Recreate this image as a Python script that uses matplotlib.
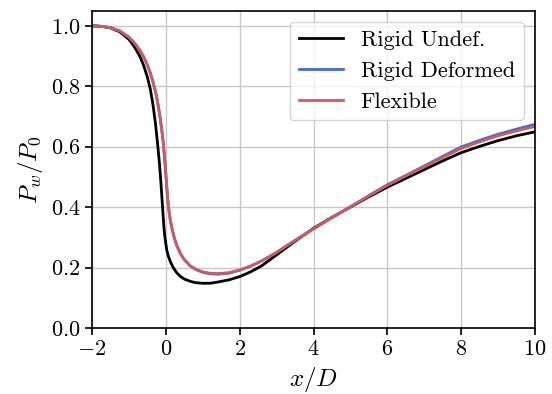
import numpy as np
import matplotlib
matplotlib.use("Agg")
import matplotlib.pyplot as plt

plt.rcParams['font.family'] = 'serif'
plt.rcParams['font.serif'] = ['cmr10']
plt.rcParams['mathtext.fontset'] = 'cm'
plt.rcParams['axes.formatter.use_mathtext'] = True

# wall pressure along x/D
x_rigid = [-2.0, -1.75, -1.5, -1.25, -1.0, -0.85, -0.7, -0.6, -0.5, -0.42, -0.35, -0.28,
           -0.22, -0.17, -0.13, -0.10, -0.07, -0.05, -0.03, 0.0, 0.03, 0.07, 0.12, 0.2,
           0.3, 0.4, 0.5, 0.65, 0.8, 1.0, 1.2, 1.4, 1.7, 2.0, 2.3, 2.6, 3.0, 3.5, 4.0,
           4.5, 5.0, 5.5, 6.0, 6.5, 7.0, 7.5, 8.0, 8.5, 9.0, 9.5, 10.0]
p_rigid = [1.0, 0.998, 0.993, 0.980, 0.955, 0.930, 0.898, 0.868, 0.830, 0.790, 0.740, 0.675,
           0.605, 0.540, 0.475, 0.420, 0.365, 0.330, 0.305, 0.278, 0.255, 0.237, 0.220, 0.200,
           0.182, 0.170, 0.162, 0.155, 0.150, 0.148, 0.148, 0.152, 0.159, 0.170, 0.186, 0.206,
           0.242, 0.287, 0.330, 0.366, 0.400, 0.434, 0.466, 0.495, 0.524, 0.553, 0.580, 0.601,
           0.620, 0.636, 0.649]

x_flex = [-2.0, -1.75, -1.5, -1.25, -1.0, -0.85, -0.7, -0.6, -0.5, -0.42, -0.35, -0.28,
          -0.22, -0.16, -0.11, -0.07, -0.04, -0.01, 0.02, 0.05, 0.08, 0.12, 0.17, 0.23,
          0.3, 0.4, 0.5, 0.65, 0.8, 1.0, 1.2, 1.4, 1.7, 2.0, 2.3, 2.6, 3.0, 3.5, 4.0,
          4.5, 5.0, 5.5, 6.0, 6.5, 7.0, 7.5, 8.0, 8.5, 9.0, 9.5, 10.0]
p_deformed = [1.0, 0.998, 0.994, 0.983, 0.962, 0.943, 0.918, 0.897, 0.870, 0.843, 0.815, 0.782,
              0.745, 0.700, 0.655, 0.612, 0.570, 0.525, 0.475, 0.428, 0.392, 0.357, 0.327, 0.298,
              0.272, 0.245, 0.226, 0.206, 0.194, 0.184, 0.179, 0.178, 0.181, 0.191, 0.205, 0.222,
              0.250, 0.290, 0.328, 0.365, 0.401, 0.438, 0.474, 0.505, 0.536, 0.568, 0.599, 0.621,
              0.641, 0.658, 0.674]
p_flex = [1.0, 0.998, 0.994, 0.983, 0.962, 0.943, 0.918, 0.897, 0.870, 0.843, 0.815, 0.782,
          0.745, 0.700, 0.655, 0.612, 0.570, 0.525, 0.475, 0.428, 0.392, 0.357, 0.327, 0.298,
          0.272, 0.245, 0.226, 0.207, 0.195, 0.186, 0.181, 0.180, 0.183, 0.192, 0.205, 0.222,
          0.250, 0.290, 0.328, 0.365, 0.401, 0.437, 0.472, 0.503, 0.533, 0.564, 0.594, 0.616,
          0.636, 0.652, 0.667]

fig = plt.figure(figsize=(5.52, 3.94), dpi=100)
ax = fig.add_axes([0.1667, 0.1675, 0.8025, 0.8055])

ax.plot(x_rigid, p_rigid, color='black', lw=2, label='Rigid Undef.')
ax.plot(x_flex, p_deformed, color='royalblue', lw=2, label='Rigid Deformed')
ax.plot(x_flex, p_flex, color='indianred', lw=2, label='Flexible')

ax.set_xlim(-2, 10)
ax.set_ylim(0, 1.05)
ax.set_xticks([-2, 0, 2, 4, 6, 8, 10])
ax.set_yticks([0, 0.2, 0.4, 0.6, 0.8, 1.0])
ax.grid(True, color='#c8c8c8', lw=1)
ax.set_axisbelow(True)
ax.tick_params(labelsize=16, width=1.2, length=5)
for s in ax.spines.values():
    s.set_linewidth(1.2)
ax.set_xlabel(r'$x/D$', fontsize=18)
ax.set_ylabel(r'$P_w/P_0$', fontsize=18)
ax.legend(loc='upper right', fontsize=16, handlelength=2)

fig.savefig('out.png', dpi=100)
